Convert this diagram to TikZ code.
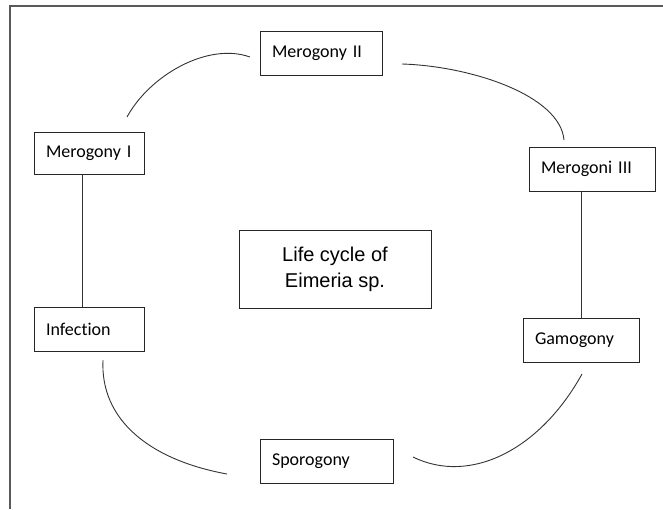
\documentclass[tikz,border=0pt]{standalone}
\usepackage{fontspec}
\setmainfont{Carlito}[Ligatures={NoCommon}]
\newfontfamily\arialf{Liberation Sans}
\begin{document}
\begin{tikzpicture}[x=1pt,y=-1pt,
  stage/.style={draw=black!85,line width=0.8pt,fill=white,inner xsep=12pt,inner ysep=0pt,
    minimum height=44pt,align=left,font=\fontsize{18}{20}\selectfont},
  link/.style={draw=black!80,line width=0.9pt},
  frameline/.style={draw=black!65,line width=2pt}]
\useasboundingbox (0,0) rectangle (663,509);
\draw[frameline] (10,509) -- (10,6) -- (663,6);
% boxes
\node[stage,text width=98pt] (m2) at (321,53) {Merogony II};
\node[stage,text width=86pt,minimum height=42pt] (m1) at (89,153) {Merogony I};
\node[stage,text width=102pt] (m3) at (592,169) {Merogoni III};
\node[stage,text width=86pt] (inf) at (89,329) {Infection};
\node[stage,text width=92pt] (gam) at (581,340) {Gamogony};
\node[stage,text width=109pt] (spo) at (326.5,461) {Sporogony};
\node[draw=black!85,line width=0.8pt,minimum width=192pt,minimum height=78pt,align=center,
  font=\arialf\fontsize{20}{25.7}\selectfont] (life) at (335,269) {Life cycle of\\Eimeria sp.};
% free ends of the curved connectors
\coordinate (a1) at (127,117); \coordinate (a2) at (250,57);
\coordinate (b1) at (402,64);  \coordinate (b2) at (564,140);
\coordinate (c1) at (582,374); \coordinate (c2) at (413,457);
\coordinate (d1) at (103,360); \coordinate (d2) at (227,474);
% connectors
\draw[link] (a1) .. controls (150,75) and (208,42) .. (a2);
\draw[link] (b1) .. controls (470,66) and (560,95) .. (b2);
\draw[link] (gam.north) -- (gam.north |- m3.south);
\draw[link] (c1) .. controls (540,450) and (470,485) .. (c2);
\draw[link] (d1) .. controls (100,420) and (150,460) .. (d2);
\draw[link] ([xshift=-7pt]m1.south) -- ([xshift=-7pt]inf.north);
\end{tikzpicture}
\end{document}
